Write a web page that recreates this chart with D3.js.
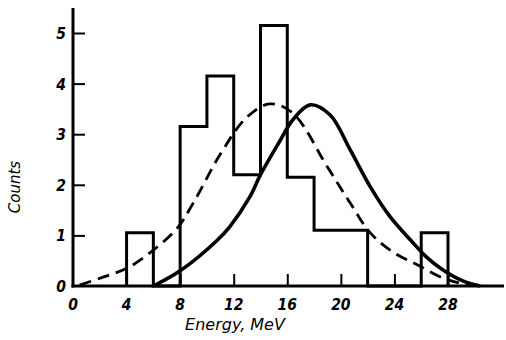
<!DOCTYPE html>
<html><head><meta charset="utf-8">
<script src="https://cdn.jsdelivr.net/npm/d3@7"></script>
<style>body{margin:0;background:#fff}svg{display:block}</style>
</head><body>
<script>
// Data
const binStarts = [4, 6, 8, 10, 12, 14, 16, 18, 20, 22, 24, 26];
const binCounts = [1.05, 0, 3.15, 4.15, 2.2, 5.15, 2.15, 1.1, 1.1, 0, 0, 1.05];
const binWidth = 2;
const dashedX = [0.5, 2.3, 4.1, 6, 7.8, 9, 11.1, 13, 14.7, 16.4, 19, 20.7, 22.2, 23.9, 25.7, 27.6, 29, 30.4];
const dashedY = [0.02, 0.18, 0.36, 0.71, 1.15, 1.65, 2.65, 3.34, 3.6, 3.42, 2.35, 1.64, 1.05, 0.67, 0.42, 0.16, 0.05, 0];
const solidX = [6, 8, 10.75, 11.7, 13.2, 14, 15.5, 16.4, 17.7, 19.2, 20.7, 22.2, 23.7, 25.2, 26.4, 27.6, 29.1, 30.4];
const solidY = [0, 0.3, 0.9, 1.17, 1.76, 2.2, 2.89, 3.28, 3.58, 3.38, 2.69, 1.96, 1.36, 0.91, 0.57, 0.32, 0.1, 0];
const xTicks = [0, 4, 8, 12, 16, 20, 24, 28];
const yTicks = [0, 1, 2, 3, 4, 5];
const xLabel = "Energy, MeV";
const yLabel = "Counts";

const W = 506, H = 340;
const svg = d3.select("body").append("svg").attr("width", W).attr("height", H);
const x = d3.scaleLinear().domain([0, 28]).range([73, 448]);
const y = d3.scaleLinear().domain([0, 5]).range([286, 33]);
const tickFont = "'DejaVu Sans Condensed','DejaVu Sans',sans-serif";

// histogram outline
const pts = [[binStarts[0], 0]];
binStarts.forEach((b, i) => pts.push([b, binCounts[i]]));
pts.push([binStarts[binStarts.length - 1] + binWidth, 0]);
svg.append("path")
  .attr("d", d3.line().x(d => x(d[0])).y(d => y(d[1])).curve(d3.curveStepAfter)(pts))
  .attr("fill", "none").attr("stroke", "#000").attr("stroke-width", 3)
  .attr("stroke-linejoin", "miter");

// curves
const lineGen = d3.line().x(d => x(d[0])).y(d => y(d[1])).curve(d3.curveCatmullRom.alpha(0.5));
svg.append("path")
  .attr("d", lineGen(dashedX.map((v, i) => [v, dashedY[i]])))
  .attr("fill", "none").attr("stroke", "#000").attr("stroke-width", 2.8)
  .attr("stroke-dasharray", "12,7");
svg.append("path")
  .attr("d", lineGen(solidX.map((v, i) => [v, solidY[i]])))
  .attr("fill", "none").attr("stroke", "#000").attr("stroke-width", 3.6);

// axes
const xAxis = svg.append("g").attr("transform", `translate(0,${y(0)})`)
  .call(d3.axisTop(x).tickValues(xTicks).tickSize(12).tickFormat(""));
xAxis.select(".domain").remove();
xAxis.selectAll(".tick line").attr("stroke-width", 2);
xAxis.selectAll(".tick").filter(d => d === 0).remove();
svg.append("line").attr("x1", x(0) - 1.5).attr("x2", 504).attr("y1", y(0)).attr("y2", y(0))
  .attr("stroke", "#000").attr("stroke-width", 3);

const yAxis = svg.append("g").attr("transform", `translate(${x(0)},0)`)
  .call(d3.axisRight(y).tickValues(yTicks).tickSize(12).tickFormat(""));
yAxis.select(".domain").remove();
yAxis.selectAll(".tick line").attr("stroke-width", 2);
yAxis.selectAll(".tick").filter(d => d === 0).remove();
svg.append("line").attr("x1", x(0)).attr("x2", x(0)).attr("y1", y(0) + 1.5).attr("y2", 8)
  .attr("stroke", "#000").attr("stroke-width", 3);

// tick labels
svg.append("g").selectAll("text").data(xTicks).join("text")
  .attr("x", d => x(d)).attr("y", 310).attr("text-anchor", "middle")
  .attr("font-family", tickFont).attr("font-weight", "bold").attr("font-style", "italic")
  .attr("font-size", 15.5).text(d => d);
svg.append("g").selectAll("text").data(yTicks).join("text")
  .attr("x", 66).attr("y", d => y(d) + 6).attr("text-anchor", "end")
  .attr("font-family", tickFont).attr("font-weight", "bold").attr("font-style", "italic")
  .attr("font-size", 15.5).text(d => d);

// axis titles
svg.append("text").attr("x", 235).attr("y", 330).attr("text-anchor", "middle")
  .attr("font-family", "'DejaVu Sans',sans-serif").attr("font-style", "italic")
  .attr("font-size", 16).text(xLabel);
svg.append("text").attr("transform", "translate(20,187) rotate(-90)").attr("text-anchor", "middle")
  .attr("font-family", "'DejaVu Sans',sans-serif").attr("font-style", "italic")
  .attr("font-size", 15).text(yLabel);
</script>
</body></html>
